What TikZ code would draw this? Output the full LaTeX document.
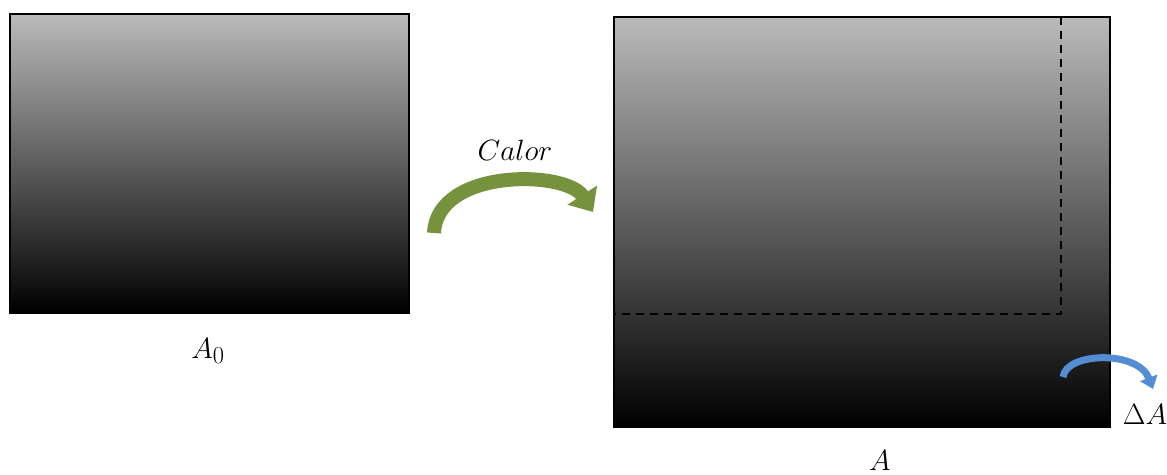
\documentclass[tikz,border=0pt]{standalone}
\usepackage{graphicx}
\usetikzlibrary{arrows.meta}

\definecolor{heatgreen}{RGB}{118,146,60}
\definecolor{growblue}{RGB}{84,141,212}

\tikzset{
  plate/.style={top color=black!27, middle color=black!47, bottom color=black, draw=black, line width=1.3pt},
  lbl/.style={font=\Huge}
}
\newcommand\mlabel[1]{\scalebox{1.18}{$#1$}}

\begin{document}
\begin{tikzpicture}[x=1pt,y=-1pt]
        \useasboundingbox (0,0) rectangle (1167,474);

        % desky
        \shade[plate] (10,14) rectangle (409,313);
        \shade[plate] (614,17) rectangle (1110,427);
        \draw[plate, fill=none] (10,14) rectangle (409,313);
        \draw[plate, fill=none] (614,17) rectangle (1110,427);

        % puvodni okraj
        \draw[dash pattern=on 8pt off 6pt, line width=1.2pt] (1061,17) -- (1061,314) -- (614,314);

        % sipky
        \draw[heatgreen, line width=14pt, -{Triangle[length=20pt,width=34pt]}]
            (434,233) .. controls (437,168) and (566,170) .. (593,212);
        \draw[growblue, line width=7pt, -{Triangle[length=12pt,width=18pt]}]
            (1063,377) .. controls (1066,352) and (1138,350) .. (1153,389);

        % popisky
        \node[lbl] (calor) at (515,150) {\mlabel{Calor}};
        \node[lbl] (a0) at (208,351) {\mlabel{A_0}};
        \node[lbl] (a) at (880,460) {\mlabel{A}};
        \node[lbl] (da) at (1145,414) {\mlabel{\Delta A}};
\end{tikzpicture}
\end{document}
